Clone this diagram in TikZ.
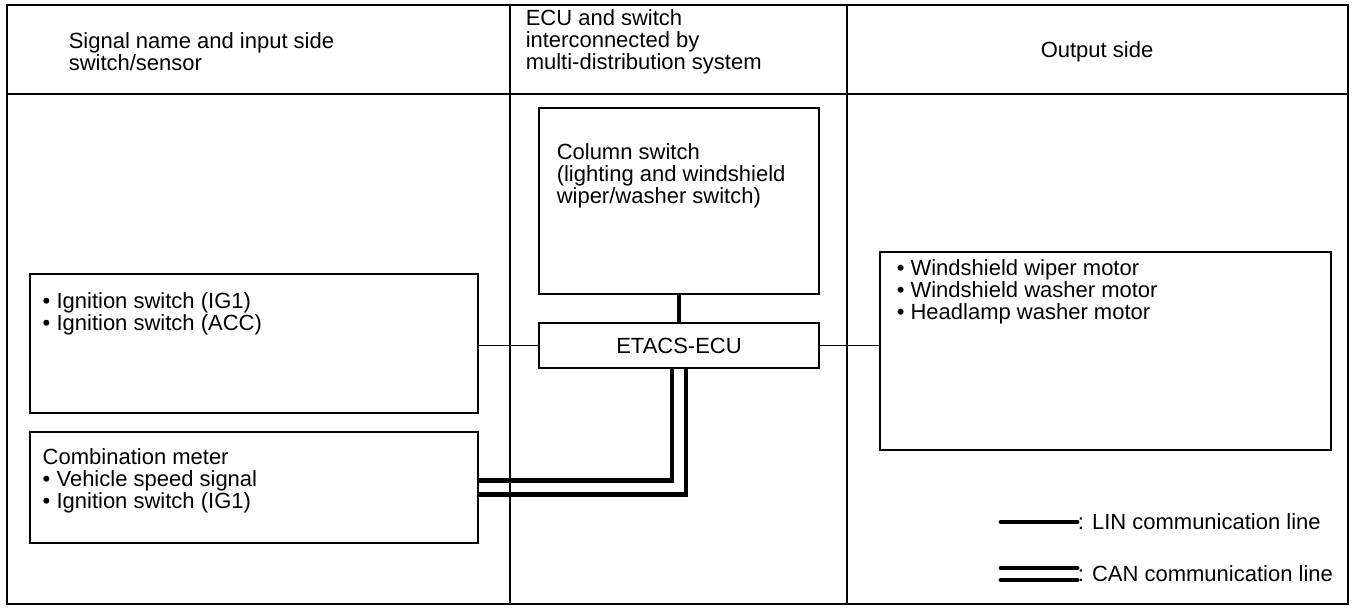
\documentclass[tikz,border=0pt]{standalone}
\usepackage{fontspec}
\setmainfont{Liberation Sans}
\newcommand{\unitfont}{\fontsize{11pt}{10.9pt}\selectfont}

\begin{document}
\begin{tikzpicture}[x=0.5pt,y=-0.5pt,line width=0.75pt]
\tikzstyle{every node}=[font=\unitfont,inner sep=0pt]
\tikzstyle{box}=[draw,rectangle]
\tikzstyle{txt}=[anchor=west,align=left]
\tikzstyle{lin}=[line width=2.4pt]
\tikzstyle{can}=[line width=2.3pt]
\useasboundingbox (0,0) rectangle (1354,608);
\draw (7,5) rectangle (1348,604);
\draw (7,94) -- (1348,94);
\draw (510,5) -- (510,604);
\draw (847,5) -- (847,604);
\node[txt] (hsig) at (68,52) {Signal name and input side\\switch/sensor};
\node[txt] (hecu) at (525,42) {ECU and switch\\interconnected by\\multi-distribution system};
\node (hout) at (1097,52) {Output side};
\node[box,minimum width=140pt,minimum height=93pt] (colsw) at (679,201) {};
\node[txt] (colswtxt) at (556,176) {Column switch\\(lighting and windshield\\wiper/washer switch)};
\node[box,minimum width=140pt,minimum height=22.5pt] (ecu) at (679,345.5) {ETACS-ECU};
\node[box,minimum width=224pt,minimum height=69.5pt] (ign) at (254,343.5) {};
\node[txt] (igntxt) at (42,314) {• Ignition switch (IG1)\\• Ignition switch (ACC)};
\node[box,minimum width=224pt,minimum height=55.5pt] (comb) at (254,487.5) {};
\node[txt] (combtxt) at (42,481) {Combination meter\\• Vehicle speed signal\\• Ignition switch (IG1)};
\node[box,minimum width=225.5pt,minimum height=99pt] (out) at (1105.5,351) {};
\node[txt] (outtxt) at (896,292) {• Windshield wiper motor\\• Windshield washer motor\\• Headlamp washer motor};
\draw (ecu.west) -- (ecu.west -| ign.east);
\draw (ecu.east) -- (ecu.east -| out.west);
\draw[lin] (colsw.south) -- (ecu.north);
\draw[can] ([xshift=-3.5pt]ecu.south) |- ([yshift=3.5pt]comb.east);
\draw[can] ([xshift=3.5pt]ecu.south) |- ([yshift=-3.5pt]comb.east);
\node[txt] (linlbl) at (1077,522) {: LIN communication line};
\node[txt] (canlbl) at (1077,574) {: CAN communication line};
\coordinate (lin0) at (1001,522);
\coordinate (can0) at (1001,568);
\coordinate (can1) at (1001,580);
\draw[lin,line cap=round] (lin0) -- (lin0 -| linlbl.west);
\draw[lin,line cap=round] (can0) -- (can0 -| canlbl.west);
\draw[lin,line cap=round] (can1) -- (can1 -| canlbl.west);
\end{tikzpicture}
\end{document}
